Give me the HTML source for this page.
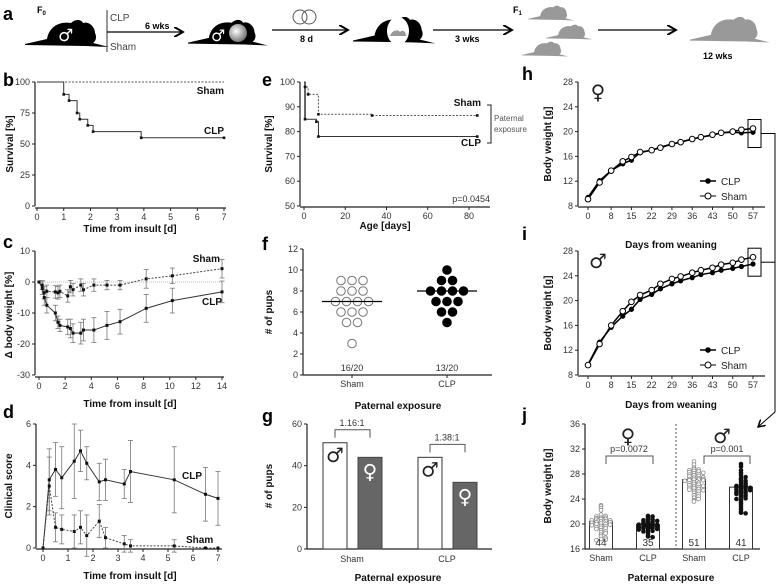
<!DOCTYPE html>
<html><head><meta charset="utf-8">
<style>
html,body{margin:0;padding:0;background:#fff;}
svg{display:block;font-family:"Liberation Sans",Arial,sans-serif;}
.t{font-size:9px;fill:#333;}
.b{font-size:10px;font-weight:bold;fill:#111;}
.L{font-size:18px;font-weight:bold;fill:#000;}
.sx{font-family:"DejaVu Sans",sans-serif;}
</style></head>
<body>
<svg id="fig" width="778" height="587" viewBox="0 0 778 587" xmlns="http://www.w3.org/2000/svg">
<defs>
<radialGradient id="sph" cx="40%" cy="40%" r="60%"><stop offset="0" stop-color="#fff"/><stop offset="1" stop-color="#777"/></radialGradient>
<marker id="ah" markerWidth="8" markerHeight="8" refX="7" refY="4" orient="auto"><path d="M0,0 L7,4 L0,8" fill="none" stroke="#000" stroke-width="1.5"/></marker>
</defs>
<g id="panel-a">
<text x="3" y="20" class="L">a</text>
<text x="37" y="13" style="font-size:9px;font-weight:bold">F<tspan style="font-size:6px" dy="2">0</tspan></text>
<line x1="107" y1="10" x2="107" y2="52" stroke="#333"/>
<text x="110" y="21" style="font-size:10px;fill:#444">CLP</text>
<text x="110" y="50" style="font-size:10px;fill:#444">Sham</text>
<line x1="107" y1="32" x2="183" y2="32" stroke="#000" stroke-width="1.3" marker-end="url(#ah)"/>
<text x="145" y="29" style="font-size:9px;font-weight:bold">6 wks</text>
<circle cx="300" cy="17" r="7" fill="none" stroke="#555"/>
<circle cx="309" cy="17" r="7" fill="none" stroke="#555"/>
<line x1="272" y1="30" x2="348" y2="30" stroke="#000" stroke-width="1.3" marker-end="url(#ah)"/>
<text x="300" y="42" style="font-size:9px;font-weight:bold">8 d</text>
<line x1="433" y1="30" x2="512" y2="30" stroke="#000" stroke-width="1.3" marker-end="url(#ah)"/>
<text x="455" y="42" style="font-size:9px;font-weight:bold">3 wks</text>
<text x="513" y="13" style="font-size:9px;font-weight:bold">F<tspan style="font-size:6px" dy="2">1</tspan></text>
<line x1="598" y1="30" x2="676" y2="30" stroke="#000" stroke-width="1.3" marker-end="url(#ah)"/>
<text x="703" y="59" style="font-size:9px;font-weight:bold">12 wks</text>
</g>
<g id="plots"></g>
</svg>
<script>
// ---------- data ----------
var bClpT=[0,1,1.2,1.5,1.6,1.9,2.1,3.9,7];
var bClpV=[100,90,85,75,70,65,60,55,55];
var bShamT=[0,7];
var bShamV=[100,100];
var cT=[0,0.25,0.4,0.6,1.25,1.45,1.6,2.2,2.4,2.6,3.2,3.4,4.2,5.2,6.2,8.2,10.2,14];
var cClpV=[0,-2,-5,-7.5,-10,-13,-14,-14.5,-15,-16.5,-16.5,-15.5,-15.5,-14,-12.8,-8.5,-6,-3.2];
var cClpE=[0,2,2.5,2.5,2.5,2,2,2.5,3,3,3.5,3.5,4,4.5,4,4.5,4,3.5];
var cShamV=[0,-1,-3.5,-3,-3.2,-3.5,-3,-4.5,-1.5,-2.5,-1,-2.5,-1,-1,-1,1,2,4.3];
var cShamE=[0,1.5,2,2,2,2,2,2,2,2,2,2,2,1.5,1.5,3,2.5,3];
var dT=[0,0.25,0.5,0.75,1.25,1.5,1.75,2.25,2.5,3.25,3.5,5.25,6.5,7];
var dClpV=[0,3.3,3.8,3.4,4.2,4.7,4.1,3.2,3.3,3.1,3.7,3.3,2.6,2.4];
var dClpE=[0,1.5,1.3,1.5,1.8,1,0.8,0.9,1,0.7,1.5,1.6,1.3,1.3];
var dShamV=[0,3,1,0.9,0.8,1,0.6,1.3,0.5,0.2,0.1,0.1,0,0];
var dShamE=[0,1.4,0.7,0.7,0.8,0.8,1,0.8,0.5,0.4,0.3,0.3,0,0];
var eShamT=[0,0.5,2,7,33,84];
var eShamV=[100,98,95,87,86.5,86.5];
var eClpT=[0,0.5,6,7,84];
var eClpV=[100,85,84,78,78];
var fSham=[9,9,9,8,8,8,7,7,7,7,6,6,6,5,5,3];
var fClp=[10,9,9,8,8,8,8,7,7,7,6,6,5];
var gCats=["Sham","CLP"];
var gMale=[51,44];
var gFemale=[44,32];
var gRatio=["1.16:1","1.38:1"];
var hDays=[0,4,8,12,15,18,22,25,29,32,36,39,43,46,50,53,57];
var hTicks=[0,8,15,22,29,36,43,50,57];
var hClp=[9.4,12.1,13.7,14.8,15.4,16.6,17.0,17.5,18.0,18.3,18.8,19.1,19.4,19.8,19.9,19.8,19.9];
var hSham=[9.1,11.8,13.7,15.2,15.9,16.7,17.0,17.4,18.0,18.3,18.8,19.1,19.5,19.8,20.0,20.3,20.5];
var iClp=[9.7,13.3,15.7,17.5,18.6,20.2,21.0,21.9,22.7,23.2,23.7,24.2,24.5,24.9,25.2,25.5,25.9];
var iSham=[9.6,13.0,16.0,18.3,19.8,20.9,21.7,22.7,23.5,23.9,24.5,24.9,25.3,25.8,26.1,26.6,27.0];
var jCats=["Sham","CLP","Sham","CLP"];
var jMeans=[20.4,19.9,27.1,25.9];
var jN=["44","35","51","41"];
var jShamF=[23,22.8,22.5,22.2,21.5,21.3,21.2,21.0,21.0,20.9,20.8,20.8,20.7,20.6,20.6,20.5,20.5,20.4,20.4,20.3,20.3,20.2,20.2,20.1,20.0,20.0,19.9,19.8,19.7,19.6,19.5,19.4,19.3,19.2,19.0,18.8,18.7,18.5,18.3,18.0,17.8,17.6,17.5,17.4];
var jClpF=[21.3,21.2,21.0,20.8,20.7,20.6,20.5,20.4,20.3,20.2,20.1,20.0,20.0,19.9,19.9,19.8,19.8,19.7,19.7,19.6,19.6,19.5,19.5,19.4,19.4,19.3,19.2,19.1,19.0,18.9,18.8,18.6,18.3,18.0,17.9];
var jShamM=[30,29.5,29,28.8,28.7,28.6,28.5,28.4,28.3,28.2,28.1,28.0,27.9,27.8,27.7,27.6,27.5,27.4,27.3,27.2,27.2,27.1,27.1,27.0,27.0,26.9,26.8,26.7,26.6,26.5,26.4,26.3,26.2,26.1,26.0,25.9,25.8,25.7,25.6,25.5,25.4,25.3,25.2,25.0,24.8,24.6,24.4,24.2,24.0,23.8,23.6];
var jClpM=[29.6,29.2,28.6,28.2,27.8,27.5,27.3,27.1,26.9,26.7,26.5,26.3,26.2,26.1,26.0,26.0,25.9,25.8,25.7,25.6,25.5,25.4,25.3,25.2,25.1,25.0,24.9,24.8,24.6,24.5,24.3,24.1,24.0,23.8,23.5,23.2,22.8,22.4,22.0,21.8,21.7];

// ---------- helpers ----------
var NS="http://www.w3.org/2000/svg";
var root=document.getElementById('plots');
var pa=document.getElementById('panel-a');
function mk(tag,attrs,name,parent){
  var el=document.createElementNS(NS,tag);
  for(var k in attrs) el.setAttribute(k,attrs[k]);
  
  
  (parent||root).appendChild(el);
  return el;
}
function txt(x,y,s,cls,name,anchor,extra){
  var a={x:x,y:y,'class':cls,'text-anchor':anchor||'start'};
  if(extra) for(var k in extra) a[k]=extra[k];
  var el=mk('text',a,name);
  el.textContent=s;
  return el;
}
function lin(d0,d1,r0,r1){return function(v){return r0+(v-d0)*(r1-r0)/(d1-d0);};}
function yAxis(x,Y,ticks,name){
  mk('line',{x1:x,y1:Y(ticks[0]),x2:x,y2:Y(ticks[ticks.length-1]),stroke:'#222','stroke-width':1.2},name+'-line');
  ticks.forEach(function(t){
    mk('line',{x1:x-3,y1:Y(t),x2:x,y2:Y(t),stroke:'#222'},name+'-tick');
    txt(x-5,Y(t)+3,String(t),'t',name+'-tick-label','end');
  });
}
function xAxis(y,X,ticks,name,x0,x1){
  mk('line',{x1:x0,y1:y,x2:x1,y2:y,stroke:'#222','stroke-width':1.2},name+'-line');
  ticks.forEach(function(t){
    mk('line',{x1:X(t),y1:y,x2:X(t),y2:y+3,stroke:'#222'},name+'-tick');
    txt(X(t),y+12,String(t),'t',name+'-tick-label','middle');
  });
}
function ytitle(x,y,s,name){txt(x,y,s,'b',name,'middle',{transform:'rotate(-90 '+x+' '+y+')'});}
function stepPath(T,V,X,Y){
  var d='M'+X(T[0])+','+Y(V[0]);
  for(var i=1;i<T.length;i++){d+=' H'+X(T[i])+' V'+Y(V[i]);}
  return d;
}
function polyPath(T,V,X,Y){return T.map(function(t,i){return (i?'L':'M')+X(t)+','+Y(V[i]);}).join(' ');}
function errs(T,V,E,X,Y,name){
  T.forEach(function(t,i){ if(!E[i]) return;
    var x=X(t);
    mk('line',{x1:x,y1:Y(V[i]-E[i]),x2:x,y2:Y(V[i]+E[i]),stroke:'#777','stroke-width':0.8},name);
    mk('line',{x1:x-2.5,y1:Y(V[i]+E[i]),x2:x+2.5,y2:Y(V[i]+E[i]),stroke:'#777','stroke-width':0.8},name+'-cap');
    mk('line',{x1:x-2.5,y1:Y(V[i]-E[i]),x2:x+2.5,y2:Y(V[i]-E[i]),stroke:'#777','stroke-width':0.8},name+'-cap');
  });
}
function dots(T,V,X,Y,name,r){
  T.forEach(function(t,i){mk('rect',{x:X(t)-(r||1.5),y:Y(V[i])-(r||1.5),width:2*(r||1.5),height:2*(r||1.5),fill:'#111'},name);});
}
function mouse(x,y,s,fill,name){
  var d='M0,27 L22,22 C24,10 34,4 46,6 C50,2 56,2 58,6 C64,4 70,10 70,16 C72,20 71,24 68,26 L84,30 L60,29 L0,28 Z';
  mk('path',{d:d,fill:fill,transform:'translate('+x+','+y+') scale('+s+')'},name,pa);
}

// ---------- panel a mice ----------
mouse(25,17,1.0,'#000','mouse-f0');
mk('text',{x:58,y:41,fill:'#fff','font-size':'17','font-weight':'bold','class':'sx'},'male-symbol-f0',pa).textContent='♂';
mouse(188,17,0.95,'#000','mouse-treated');
mk('text',{x:211,y:41,fill:'#fff','font-size':'16','font-weight':'bold','class':'sx'},'male-symbol-treated',pa).textContent='♂';
mk('circle',{cx:238,cy:33,r:9,fill:'url(#sph)'},'sepsis-sphere',pa);
mouse(353,14,0.98,'#000','mouse-mating');
mk('ellipse',{cx:398,cy:31,rx:11,ry:14,fill:'#fff'},'mating-window',pa);
mk('path',{d:'M390,36 C392,30 398,29 400,32 C403,29 406,32 406,36 Z',fill:'#999'},'mating-inner-mouse',pa);
mouse(528,4,0.55,'#999','offspring-mouse-1');
mouse(546,23,0.55,'#999','offspring-mouse-2');
mouse(522,40,0.55,'#999','offspring-mouse-3');
mouse(690,14,0.95,'#999','adult-offspring-mouse');

// ---------- panel b ----------
txt(3,86,'b','L','panel-letter-b');
(function(){
  var X=lin(0,7,37,224),Y=lin(0,100,206,82);
  yAxis(35,Y,[0,25,50,75,100],'b-y-axis');
  xAxis(208,X,[0,1,2,3,4,5,6,7],'b-x-axis',35,226);
  mk('path',{d:stepPath(bShamT,bShamV,X,Y),fill:'none',stroke:'#555','stroke-dasharray':'2,1.5'},'b-sham-line');
  mk('path',{d:stepPath(bClpT,bClpV,X,Y),fill:'none',stroke:'#333','stroke-width':1},'b-clp-line');
  dots(bClpT.slice(1),bClpV.slice(1),X,Y,'b-clp-censor',1.3);
  txt(224,94,'Sham','b','b-sham-label','end');
  txt(224,134,'CLP','b','b-clp-label','end');
  txt(130,232,'Time from insult [d]','b','b-x-title','middle');
  ytitle(13,144,'Survival [%]','b-y-title');
})();

// ---------- panel c ----------
txt(3,248,'c','L','panel-letter-c');
(function(){
  var X=lin(0,14,39,222),Y=lin(0,10,282,251);
  yAxis(35,Y,[-30,-20,-10,0,10],'c-y-axis');
  xAxis(377,X,[0,2,4,6,8,10,12,14],'c-x-axis',35,224);
  mk('line',{x1:35,y1:Y(0),x2:222,y2:Y(0),stroke:'#bbb','stroke-dasharray':'1,1'},'c-zero-line');
  errs(cT,cShamV,cShamE,X,Y,'c-sham-error');
  errs(cT,cClpV,cClpE,X,Y,'c-clp-error');
  mk('path',{d:polyPath(cT,cShamV,X,Y),fill:'none',stroke:'#444','stroke-dasharray':'2,1.5'},'c-sham-line');
  mk('path',{d:polyPath(cT,cClpV,X,Y),fill:'none',stroke:'#333'},'c-clp-line');
  dots(cT,cShamV,X,Y,'c-sham-point');
  dots(cT,cClpV,X,Y,'c-clp-point');
  txt(220,262,'Sham','b','c-sham-label','end');
  txt(222,305,'CLP','b','c-clp-label','end');
  txt(130,407,'Time from insult [d]','b','c-x-title','middle');
  ytitle(12,315,'Δ body weight [%]','c-y-title');
})();

// ---------- panel d ----------
txt(3,418,'d','L','panel-letter-d');
(function(){
  var X=lin(0,7,43,218),Y=lin(0,6,548,424);
  yAxis(36,Y,[0,2,4,6],'d-y-axis');
  xAxis(549,X,[0,1,2,3,4,5,6,7],'d-x-axis',36,222);
  errs(dT,dClpV,dClpE,X,Y,'d-clp-error');
  errs(dT,dShamV,dShamE,X,Y,'d-sham-error');
  mk('path',{d:polyPath(dT,dClpV,X,Y),fill:'none',stroke:'#333'},'d-clp-line');
  mk('path',{d:polyPath(dT,dShamV,X,Y),fill:'none',stroke:'#444','stroke-dasharray':'2,1.5'},'d-sham-line');
  dots(dT,dClpV,X,Y,'d-clp-point');
  dots(dT,dShamV,X,Y,'d-sham-point');
  txt(182,479,'CLP','b','d-clp-label');
  txt(186,543,'Sham','b','d-sham-label');
  txt(130,579,'Time from insult [d]','b','d-x-title','middle');
  ytitle(12,486,'Clinical score','d-y-title');
})();

// ---------- panel e ----------
txt(262,86,'e','L','panel-letter-e');
(function(){
  var X=lin(0,80,304,469),Y=lin(50,100,206,82);
  yAxis(300,Y,[50,60,70,80,90,100],'e-y-axis');
  xAxis(207,X,[0,20,40,60,80],'e-x-axis',300,490);
  mk('rect',{x:X(0),y:Y(100),width:2,height:Y(85)-Y(100),fill:'#999'},'e-early-band');
  mk('path',{d:stepPath(eShamT,eShamV,X,Y),fill:'none',stroke:'#555','stroke-dasharray':'2,1.5'},'e-sham-line');
  mk('path',{d:stepPath(eClpT,eClpV,X,Y),fill:'none',stroke:'#333'},'e-clp-line');
  dots(eShamT.slice(1),eShamV.slice(1),X,Y,'e-sham-censor',1.3);
  dots(eClpT.slice(1),eClpV.slice(1),X,Y,'e-clp-censor',1.3);
  txt(481,106,'Sham','b','e-sham-label','end');
  txt(481,146,'CLP','b','e-clp-label','end');
  mk('path',{d:'M487,105 H491 V143 H487',fill:'none',stroke:'#222'},'e-bracket');
  txt(494,121,'Paternal','t','e-bracket-label-1',null,{style:'font-size:8px;fill:#555'});
  txt(494,132,'exposure','t','e-bracket-label-2',null,{style:'font-size:8px;fill:#555'});
  txt(490,202,'p=0.0454','t','e-p-value','end');
  txt(385,229,'Age [days]','b','e-x-title','middle');
  ytitle(272,144,'Survival [%]','e-y-title');
})();

// ---------- panel f ----------
txt(262,250,'f','L','panel-letter-f');
(function(){
  var Y=lin(0,12,375,249),cx=[352,447];
  yAxis(303,Y,[0,2,4,6,8,10,12],'f-y-axis');
  mk('line',{x1:303,y1:375,x2:492,y2:375,stroke:'#222','stroke-width':1.2},'f-x-axis');
  [fSham,fClp].forEach(function(arr,g){
    var counts={};arr.forEach(function(v){counts[v]=(counts[v]||0)+1;});
    var seen={};
    arr.forEach(function(v){
      var n=counts[v],k=seen[v]||0;seen[v]=k+1;
      var x=cx[g]+(k-(n-1)/2)*11;
      mk('circle',{cx:x,cy:Y(v),r:4.3,fill:g?'#000':'#fff',stroke:g?'#000':'#777','stroke-width':1},g?'f-clp-point':'f-sham-point');
    });
    var m=arr.reduce(function(a,b){return a+b;},0)/arr.length;
    var mv=Math.round(m);
    mk('line',{x1:cx[g]-30,y1:Y(mv),x2:cx[g]+30,y2:Y(mv),stroke:'#000','stroke-width':1.2},'f-median-line');
    mk('line',{x1:cx[g],y1:375,x2:cx[g],y2:378,stroke:'#222'},'f-x-tick');
  });
  txt(352,371,'16/20','t','f-sham-ratio','middle');
  txt(447,371,'13/20','t','f-clp-ratio','middle');
  txt(352,387,'Sham','t','f-sham-tick','middle');
  txt(447,387,'CLP','t','f-clp-tick','middle');
  txt(398,409,'Paternal exposure','b','f-x-title','middle');
  ytitle(272,312,'# of pups','f-y-title');
})();

// ---------- panel g ----------
txt(262,422,'g','L','panel-letter-g');
(function(){
  var Y=lin(0,60,549,424),cx=[352,447];
  yAxis(307,Y,[0,20,40,60],'g-y-axis');
  mk('line',{x1:307,y1:549,x2:492,y2:549,stroke:'#222','stroke-width':1.2},'g-x-axis');
  gCats.forEach(function(c,i){
    var mx=cx[i]-29,fx=cx[i]+6;
    mk('rect',{x:mx,y:Y(gMale[i]),width:24,height:549-Y(gMale[i]),fill:'#fff',stroke:'#333'},'g-male-bar-'+c.toLowerCase());
    mk('rect',{x:fx,y:Y(gFemale[i]),width:24,height:549-Y(gFemale[i]),fill:'#666',stroke:'#444'},'g-female-bar-'+c.toLowerCase());
    txt(mx+12,Y(gMale[i])+19,'♂','t sx','g-male-symbol','middle',{style:'font-size:20px;fill:#222'});
    txt(fx+12,Y(gFemale[i])+21,'♀','t sx','g-female-symbol','middle',{style:'font-size:20px;fill:#fff'});
    var by=Y(Math.max(gMale[i],gFemale[i]))-13;
    mk('path',{d:'M'+(mx+12)+','+(by+8)+' V'+by+' H'+(fx+12)+' V'+(by+8),fill:'none',stroke:'#555'},'g-ratio-bracket');
    txt(cx[i],by-4,gRatio[i],'t','g-ratio-label','middle');
    txt(cx[i],562,c,'t','g-x-tick-label','middle');
  });
  txt(398,581,'Paternal exposure','b','g-x-title','middle');
  ytitle(272,486,'# of pups','g-y-title');
})();

// ---------- panels h, i ----------
function growth(top,bottom,clp,sham,sym,pfx){
  var X=lin(0,57,588,753),Y=lin(8,28,bottom,top);
  yAxis(578,Y,[8,12,16,20,24,28],pfx+'-y-axis');
  xAxis(bottom+1,X,hTicks,pfx+'-x-axis',578,765);
  hDays.forEach(function(d,i){
    mk('line',{x1:X(d),y1:Y(clp[i])-2.5,x2:X(d),y2:Y(clp[i])+2.5,stroke:'#000'},pfx+'-clp-error');
  });
  mk('path',{d:polyPath(hDays,sham,X,Y),fill:'none',stroke:'#000','stroke-width':1.5},pfx+'-sham-line');
  mk('path',{d:polyPath(hDays,clp,X,Y),fill:'none',stroke:'#000','stroke-width':1.5},pfx+'-clp-line');
  hDays.forEach(function(d,i){mk('circle',{cx:X(d),cy:Y(clp[i]),r:2.6,fill:'#000'},pfx+'-clp-point');});
  hDays.forEach(function(d,i){mk('circle',{cx:X(d),cy:Y(sham[i]),r:2.8,fill:'#fff',stroke:'#000'},pfx+'-sham-point');});
  mk('rect',{x:748,y:Y(sham[16])-9,width:13,height:28,fill:'none',stroke:'#000'},pfx+'-highlight-box');
  var ly=bottom-25;
  mk('line',{x1:700,y1:ly,x2:716,y2:ly,stroke:'#000','stroke-width':1.5},pfx+'-legend-clp-line');
  mk('circle',{cx:708,cy:ly,r:2.8,fill:'#000'},pfx+'-legend-clp-marker');
  txt(721,ly+4,'CLP','t','legend-clp-'+pfx,'start',{style:'font-size:10px;fill:#222'});
  mk('line',{x1:700,y1:ly+15,x2:716,y2:ly+15,stroke:'#000','stroke-width':1},pfx+'-legend-sham-line');
  mk('circle',{cx:708,cy:ly+15,r:3,fill:'#fff',stroke:'#000'},pfx+'-legend-sham-marker');
  txt(721,ly+19,'Sham','t','legend-sham-'+pfx,'start',{style:'font-size:10px;fill:#222'});
  txt(598,top+17,sym,'t sx',pfx+'-sex-symbol','middle',{style:'font-size:20px;fill:#222'});
  ytitle(551,(top+bottom)/2,'Body weight [g]',pfx+'-y-title');
  return Y(sham[16])+5;
}
txt(522,80,'h','L','panel-letter-h');
var hy=growth(82,206,hClp,hSham,'♀','h');
txt(671,248,'Days from weaning','b','h-x-title','middle');
txt(522,240,'i','L','panel-letter-i');
var iy=growth(251,375,iClp,iSham,'♂','i');
txt(671,408,'Days from weaning','b','i-x-title','middle');
mk('path',{d:'M761,'+hy+' H775 V412 L758,427',fill:'none',stroke:'#000','marker-end':'url(#ah)'},'connector-arrow');
mk('line',{x1:761,y1:iy,x2:775,y2:iy,stroke:'#000'},'connector-i');

// ---------- panel j ----------
txt(522,421,'j','L','panel-letter-j');
(function(){
  var Y=lin(16,36,549,424),cx=[601,648,694,741];
  yAxis(585,Y,[16,20,24,28,32,36],'j-y-axis');
  mk('line',{x1:585,y1:549,x2:760,y2:549,stroke:'#222','stroke-width':1.2},'j-x-axis');
  mk('line',{x1:676,y1:424,x2:676,y2:549,stroke:'#555','stroke-dasharray':'2,2'},'j-sex-divider');
  var sets=[jShamF,jClpF,jShamM,jClpM];
  jCats.forEach(function(c,i){
    mk('rect',{x:cx[i]-11.5,y:Y(jMeans[i]),width:23,height:549-Y(jMeans[i]),fill:'#fff',stroke:'#333'},'j-bar-'+i);
    var bins={};
    sets[i].forEach(function(v){
      var b=Math.round(v/0.35);var k=bins[b]||0;bins[b]=k+1;
      var off=(k%2?1:-1)*Math.ceil(k/2)*4.6;
      if(Math.abs(off)>13) off=(k%2?1:-1)*(2.3+(Math.abs(off)%13));
      mk('circle',{cx:cx[i]+off,cy:Y(v),r:1.9,fill:(i%2)?'#111':'#fff',stroke:(i%2)?'#111':'#888','stroke-width':0.8},'j-point-'+i);
    });
    txt(cx[i],546,jN[i],'t','j-n-label','middle',{style:'font-size:10px;fill:#333'});
    txt(cx[i],561,c,'t','j-x-tick-label','middle');
  });
  mk('path',{d:'M606,464 V456 H653 V464',fill:'none',stroke:'#555'},'j-female-bracket');
  mk('path',{d:'M704,464 V456 H750 V464',fill:'none',stroke:'#555'},'j-male-bracket');
  txt(629,452,'p=0.0072','t','j-female-p-value','middle');
  txt(727,452,'p=0.001','t','j-male-p-value','middle');
  txt(628,443,'♀','t sx','j-female-symbol','middle',{style:'font-size:20px;fill:#222'});
  txt(722,443,'♂','t sx','j-male-symbol','middle',{style:'font-size:20px;fill:#222'});
  txt(671,581,'Paternal exposure','b','j-x-title','middle');
  ytitle(551,486,'Body weight [g]','j-y-title');
})();
</script>
</body></html>
